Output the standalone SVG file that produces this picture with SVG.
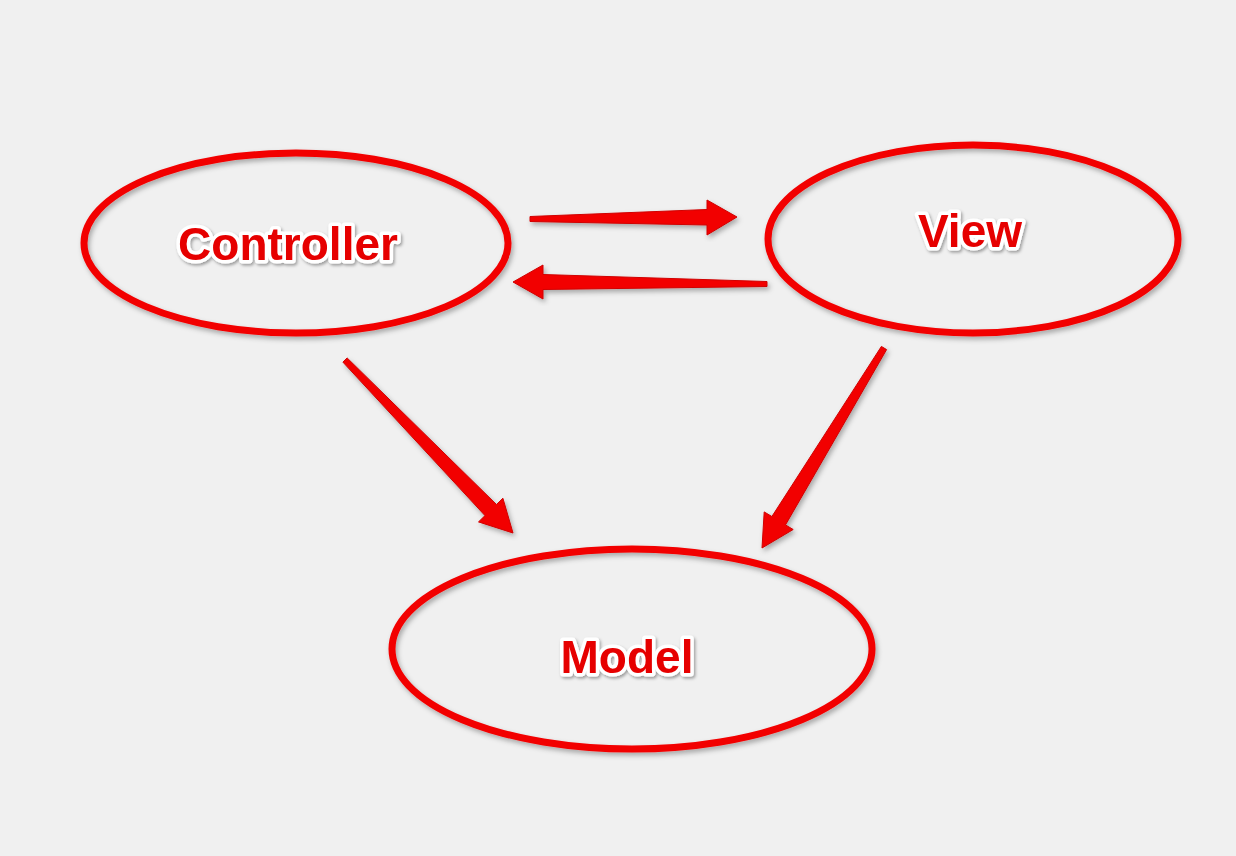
<svg xmlns="http://www.w3.org/2000/svg" width="1236" height="856" viewBox="0 0 1236 856">
<defs>
<filter id="sh" x="-20%" y="-20%" width="140%" height="140%">
<feDropShadow dx="2" dy="3" stdDeviation="2.5" flood-color="#000" flood-opacity="0.3"/>
</filter>
<filter id="tsh" x="-20%" y="-30%" width="140%" height="160%">
<feDropShadow dx="1.5" dy="2" stdDeviation="1.5" flood-color="#000" flood-opacity="0.35"/>
</filter>
</defs>
<style>
.node{fill:none;stroke:#f20000;stroke-width:7;filter:url(#sh)}
.lbl{font-family:"Liberation Sans",Arial,sans-serif;font-weight:bold;font-size:46px;fill:#e60000;stroke:#fff;stroke-width:7;stroke-linejoin:round;paint-order:stroke;text-anchor:middle;filter:url(#tsh)}
.arr{fill:#f20000;stroke:#d00000;stroke-width:1;stroke-linejoin:miter;filter:url(#sh)}
</style>
<rect width="1236" height="856" fill="#f0f0f0"/>
<g id="connectors">
<polygon class="arr" points="530,216.5 707,209.5 707,200 737,217 707,235 707,225 530,221.5"/>
<polygon class="arr" points="767,281.5 543,274.5 543,265 513,282 543,299 543,289.5 767,286.5"/>
<polygon class="arr" points="347.1,357.9 496.5,504.5 502.9,498.2 513,533 478.5,521.9 485,515.6 342.9,362.1"/>
<polygon class="arr" points="886.6,349.6 785.5,524.9 793.2,529.5 762,548 764.2,511.9 771.9,516.5 881.4,346.4"/>
</g>
<g id="controller">
<ellipse class="node" cx="296" cy="243" rx="212" ry="90"/>
<text class="lbl" x="288" y="260">Controller</text>
</g>
<g id="view">
<ellipse class="node" cx="973" cy="239" rx="205" ry="94"/>
<text class="lbl" x="970" y="247">View</text>
</g>
<g id="model">
<ellipse class="node" cx="632" cy="649" rx="240" ry="100"/>
<text class="lbl" x="627" y="673">Model</text>
</g>
</svg>
